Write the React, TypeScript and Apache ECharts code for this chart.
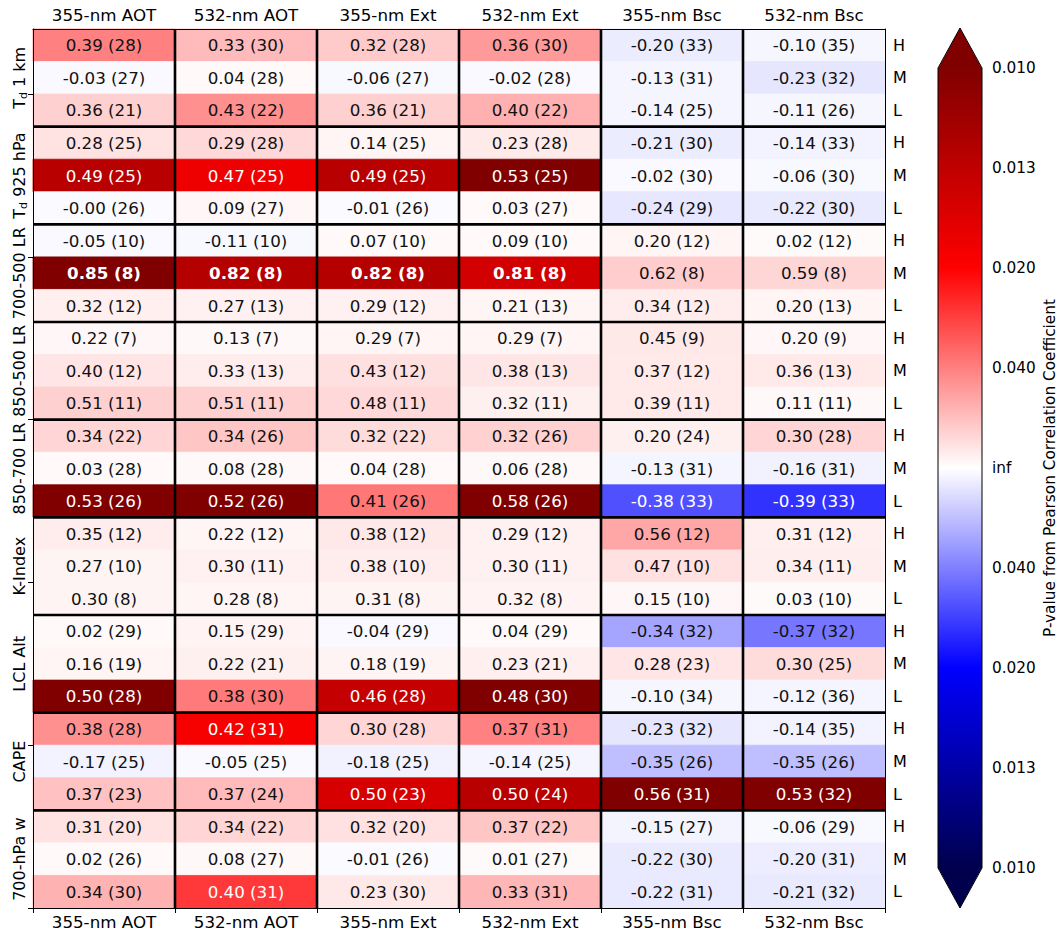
import React, { useEffect, useRef } from 'react';
import * as echarts from 'echarts';

// ---- data -------------------------------------------------------------
const columns = ['355-nm AOT', '532-nm AOT', '355-nm Ext', '532-nm Ext', '355-nm Bsc', '532-nm Bsc'];
const groups = ['T_d 1 km', 'T_d 925 hPa', '700-500 LR', '850-500 LR', '850-700 LR', 'K-Index', 'LCL Alt', 'CAPE', '700-hPa w'];
const levels = ['H', 'M', 'L'];

// Pearson correlation coefficient, one row per group level (H, M, L)
const corr: number[][] = [
  [0.39, 0.33, 0.32, 0.36, -0.20, -0.10],
  [-0.03, 0.04, -0.06, -0.02, -0.13, -0.23],
  [0.36, 0.43, 0.36, 0.40, -0.14, -0.11],
  [0.28, 0.29, 0.14, 0.23, -0.21, -0.14],
  [0.49, 0.47, 0.49, 0.53, -0.02, -0.06],
  [-0.00, 0.09, -0.01, 0.03, -0.24, -0.22],
  [-0.05, -0.11, 0.07, 0.09, 0.20, 0.02],
  [0.85, 0.82, 0.82, 0.81, 0.62, 0.59],
  [0.32, 0.27, 0.29, 0.21, 0.34, 0.20],
  [0.22, 0.13, 0.29, 0.29, 0.45, 0.20],
  [0.40, 0.33, 0.43, 0.38, 0.37, 0.36],
  [0.51, 0.51, 0.48, 0.32, 0.39, 0.11],
  [0.34, 0.34, 0.32, 0.32, 0.20, 0.30],
  [0.03, 0.08, 0.04, 0.06, -0.13, -0.16],
  [0.53, 0.52, 0.41, 0.58, -0.38, -0.39],
  [0.35, 0.22, 0.38, 0.29, 0.56, 0.31],
  [0.27, 0.30, 0.38, 0.30, 0.47, 0.34],
  [0.30, 0.28, 0.31, 0.32, 0.15, 0.03],
  [0.02, 0.15, -0.04, 0.04, -0.34, -0.37],
  [0.16, 0.22, 0.18, 0.23, 0.28, 0.30],
  [0.50, 0.38, 0.46, 0.48, -0.10, -0.12],
  [0.38, 0.42, 0.30, 0.37, -0.23, -0.14],
  [-0.17, -0.05, -0.18, -0.14, -0.35, -0.35],
  [0.37, 0.37, 0.50, 0.50, 0.56, 0.53],
  [0.31, 0.34, 0.32, 0.37, -0.15, -0.06],
  [0.02, 0.08, -0.01, 0.01, -0.22, -0.20],
  [0.34, 0.40, 0.23, 0.33, -0.22, -0.21],
];

// sample counts behind each coefficient
const counts: number[][] = [
  [28, 30, 28, 30, 33, 35],
  [27, 28, 27, 28, 31, 32],
  [21, 22, 21, 22, 25, 26],
  [25, 28, 25, 28, 30, 33],
  [25, 25, 25, 25, 30, 30],
  [26, 27, 26, 27, 29, 30],
  [10, 10, 10, 10, 12, 12],
  [8, 8, 8, 8, 8, 8],
  [12, 13, 12, 13, 12, 13],
  [7, 7, 7, 7, 9, 9],
  [12, 13, 12, 13, 12, 13],
  [11, 11, 11, 11, 11, 11],
  [22, 26, 22, 26, 24, 28],
  [28, 28, 28, 28, 31, 31],
  [26, 26, 26, 26, 33, 33],
  [12, 12, 12, 12, 12, 12],
  [10, 11, 10, 11, 10, 11],
  [8, 8, 8, 8, 10, 10],
  [29, 29, 29, 29, 32, 32],
  [19, 21, 19, 21, 23, 25],
  [28, 30, 28, 30, 34, 36],
  [28, 31, 28, 31, 32, 35],
  [25, 25, 25, 25, 26, 26],
  [23, 24, 23, 24, 31, 32],
  [20, 22, 20, 22, 27, 29],
  [26, 27, 26, 27, 30, 31],
  [30, 31, 30, 31, 31, 32],
];

// colour bar: signed 1/p scale, labelled with the p-value
const cbTickValues = [100, 75, 50, 25, 0, -25, -50, -75, -100];
const cbTickLabels = ['0.010', '0.013', '0.020', '0.040', 'inf', '0.040', '0.020', '0.013', '0.010'];
const CB_LIMIT = 100;

// ---- styling ----------------------------------------------------------
const FONT = 'DejaVu Sans';
const TEXT_DARK = '#111111';
const WHITE_TEXT_LIMIT = 30; // |1/p| above which the annotation turns white
const BOLD_R = 0.8;

// matplotlib "seismic"
const SEISMIC: [number, number[]][] = [
  [0, [0, 0, 0.3]],
  [0.25, [0, 0, 1]],
  [0.5, [1, 1, 1]],
  [0.75, [1, 0, 0]],
  [1, [0.5, 0, 0]],
];

// ---- statistics helpers ------------------------------------------------
function logGamma(x: number): number {
  const g = 7;
  const c = [
    0.99999999999980993, 676.5203681218851, -1259.1392167224028, 771.32342877765313,
    -176.61502916214059, 12.507343278686905, -0.13857109526572012, 9.9843695780195716e-6,
    1.5056327351493116e-7,
  ];
  if (x < 0.5) return Math.log(Math.PI / Math.sin(Math.PI * x)) - logGamma(1 - x);
  x -= 1;
  let a = c[0];
  const t = x + g + 0.5;
  for (let i = 1; i < g + 2; i++) a += c[i] / (x + i);
  return 0.5 * Math.log(2 * Math.PI) + (x + 0.5) * Math.log(t) - t + Math.log(a);
}

function betaCF(a: number, b: number, x: number): number {
  const FPMIN = 1e-300;
  const qab = a + b, qap = a + 1, qam = a - 1;
  let c = 1;
  let d = 1 - (qab * x) / qap;
  if (Math.abs(d) < FPMIN) d = FPMIN;
  d = 1 / d;
  let h = d;
  for (let m = 1; m <= 300; m++) {
    const m2 = 2 * m;
    let aa = (m * (b - m) * x) / ((qam + m2) * (a + m2));
    d = 1 + aa * d; if (Math.abs(d) < FPMIN) d = FPMIN;
    c = 1 + aa / c; if (Math.abs(c) < FPMIN) c = FPMIN;
    d = 1 / d; h *= d * c;
    aa = (-(a + m) * (qab + m) * x) / ((a + m2) * (qap + m2));
    d = 1 + aa * d; if (Math.abs(d) < FPMIN) d = FPMIN;
    c = 1 + aa / c; if (Math.abs(c) < FPMIN) c = FPMIN;
    d = 1 / d;
    const del = d * c;
    h *= del;
    if (Math.abs(del - 1) < 3e-14) break;
  }
  return h;
}

function incBeta(a: number, b: number, x: number): number {
  if (x <= 0) return 0;
  if (x >= 1) return 1;
  const bt = Math.exp(logGamma(a + b) - logGamma(a) - logGamma(b) + a * Math.log(x) + b * Math.log(1 - x));
  if (x < (a + 1) / (a + b + 2)) return (bt * betaCF(a, b, x)) / a;
  return 1 - (bt * betaCF(b, a, 1 - x)) / b;
}

// two-sided p-value of a Pearson coefficient r from n samples
function pearsonP(r: number, n: number): number {
  const df = n - 2;
  const r2 = r * r;
  if (r2 >= 1) return 0;
  const t2 = (r2 * df) / (1 - r2);
  return incBeta(df / 2, 0.5, df / (df + t2));
}

function seismic(t: number): string {
  const u = Math.max(0, Math.min(1, t));
  for (let i = 1; i < SEISMIC.length; i++) {
    const [o1, c1] = SEISMIC[i];
    const [o0, c0] = SEISMIC[i - 1];
    if (u <= o1) {
      const f = (u - o0) / (o1 - o0);
      const rgb = c0.map((v, k) => Math.round(255 * (v + (c1[k] - v) * f)));
      return `rgb(${rgb[0]},${rgb[1]},${rgb[2]})`;
    }
  }
  return 'rgb(128,0,0)';
}

function fmtR(r: number): string {
  const neg = r < 0 || Object.is(r, -0);
  return (neg ? '-' : '') + Math.abs(r).toFixed(2);
}

function groupLabel(name: string): string {
  if (name.startsWith('T_d')) return `{b|T}{s|d}{b|${name.slice(3)}}`;
  return `{b|${name}}`;
}

// ---- option -----------------------------------------------------------
function buildOption() {
  const nRows = groups.length * levels.length;
  const rowIds = Array.from({ length: nRows }, (_, i) => String(i));

  const cells: { value: number[]; r: number; n: number }[] = [];
  corr.forEach((row, ri) =>
    row.forEach((r, ci) => cells.push({ value: [ci, ri], r, n: counts[ri][ci] })),
  );

  const sepData: number[][] = [];
  for (let g = 1; g < groups.length; g++) sepData.push([0, g * levels.length, 0]);
  for (let c = 1; c < columns.length; c++) sepData.push([c, 0, 1]);

  const axisLine = { show: true, lineStyle: { color: '#000', width: 1 } };
  const labelBase = { color: '#000', fontFamily: FONT, fontSize: 16.7 };

  return {
    animation: false,
    backgroundColor: '#ffffff',
    grid: [
      { left: 33, top: 29, width: 852, height: 879 },
      { left: 938, top: 68, width: 44, height: 800 },
    ],
    xAxis: [
      {
        type: 'category', gridIndex: 0, position: 'top', data: columns, z: 10,
        axisLine, axisTick: { show: false },
        axisLabel: { ...labelBase, margin: 6 },
        splitLine: { show: false },
      },
      {
        type: 'category', gridIndex: 0, position: 'bottom', data: columns, z: 10,
        axisLine,
        axisTick: { show: true, length: 5, lineStyle: { color: '#000', width: 1 } },
        axisLabel: { ...labelBase, margin: 5 },
        splitLine: { show: false },
      },
      { type: 'value', gridIndex: 1, min: 0, max: 1, show: false },
    ],
    yAxis: [
      {
        type: 'category', gridIndex: 0, position: 'left', inverse: true, data: rowIds, z: 10,
        axisLine,
        axisTick: {
          show: true, length: 5, interval: (i: number) => i % 5 === 2,
          lineStyle: { color: '#000', width: 1 },
        },
        axisLabel: {
          interval: (i: number) => i % levels.length === 1,
          rotate: 90,
          margin: 4,
          formatter: (v: string) => groupLabel(groups[Math.floor(Number(v) / levels.length)]),
          rich: {
            b: { fontSize: 16, fontFamily: FONT, color: '#000', lineHeight: 20 },
            s: { fontSize: 11, fontFamily: FONT, color: '#000', lineHeight: 11, verticalAlign: 'bottom' },
          },
        },
        splitLine: { show: false },
      },
      {
        type: 'category', gridIndex: 0, position: 'right', inverse: true, data: rowIds, z: 10,
        axisLine, axisTick: { show: false },
        axisLabel: {
          ...labelBase, fontSize: 16, margin: 8,
          interval: 0,
          formatter: (v: string) => levels[Number(v) % levels.length],
        },
        splitLine: { show: false },
      },
      {
        type: 'value', gridIndex: 1, position: 'right', min: -CB_LIMIT, max: CB_LIMIT, interval: 25,
        axisLine: { show: false },
        axisTick: { show: true, length: 5, lineStyle: { color: '#000', width: 1 } },
        axisLabel: {
          color: '#000', fontFamily: FONT, fontSize: 15.3, margin: 10,
          formatter: (v: number) => {
            const i = cbTickValues.indexOf(v);
            return i >= 0 ? cbTickLabels[i] : '';
          },
        },
        splitLine: { show: false },
        name: 'P-value from Pearson Correlation Coefficient',
        nameLocation: 'middle',
        nameRotate: 90,
        nameGap: 60,
        nameTextStyle: { color: '#000', fontFamily: FONT, fontSize: 15.3 },
      },
    ],
    series: [
      {
        type: 'custom',
        name: 'cells',
        coordinateSystem: 'cartesian2d',
        xAxisIndex: 0,
        yAxisIndex: 0,
        encode: { x: 0, y: 1 },
        data: cells.map((c) => c.value),
        renderItem: (params: any, api: any) => {
          const cell = cells[params.dataIndex];
          const p = pearsonP(cell.r, cell.n);
          const inv = p > 0 ? 1 / p : Infinity;
          const signed = (cell.r < 0 || Object.is(cell.r, -0) ? -1 : 1) * Math.min(inv, CB_LIMIT);
          const color = seismic((signed + CB_LIMIT) / (2 * CB_LIMIT));
          const ctr = api.coord([api.value(0), api.value(1)]);
          const sz = api.size([1, 1]);
          const textColor = inv > WHITE_TEXT_LIMIT ? '#ffffff' : TEXT_DARK;
          return {
            type: 'group',
            children: [
              {
                type: 'rect',
                shape: { x: ctr[0] - sz[0] / 2, y: ctr[1] - sz[1] / 2, width: sz[0], height: sz[1] },
                style: { fill: color, stroke: color, lineWidth: 0.8 },
              },
              {
                type: 'text',
                x: ctr[0],
                y: ctr[1],
                style: {
                  text: `${fmtR(cell.r)} (${cell.n})`,
                  fill: textColor,
                  fontFamily: FONT,
                  fontSize: 16.7,
                  fontWeight: Math.abs(cell.r) >= BOLD_R ? 'bold' : 'normal',
                  align: 'center',
                  verticalAlign: 'middle',
                },
              },
            ],
          };
        },
        z: 2,
      },
      {
        type: 'custom',
        name: 'separators',
        coordinateSystem: 'cartesian2d',
        xAxisIndex: 0,
        yAxisIndex: 0,
        encode: { x: 0, y: 1 },
        data: sepData,
        clip: false,
        renderItem: (params: any, api: any) => {
          const cs = params.coordSys;
          const vertical = api.value(2) === 1;
          if (vertical) {
            const x = api.coord([api.value(0), 0])[0] - api.size([1, 0])[0] / 2;
            return {
              type: 'line',
              shape: { x1: x, y1: cs.y, x2: x, y2: cs.y + cs.height },
              style: { stroke: '#000', lineWidth: 2.6 },
            };
          }
          const y = api.coord([0, api.value(1)])[1] - api.size([0, 1])[1] / 2;
          return {
            type: 'line',
            shape: { x1: cs.x, y1: y, x2: cs.x + cs.width, y2: y },
            style: { stroke: '#000', lineWidth: 2.6 },
          };
        },
        z: 3,
      },
      {
        type: 'custom',
        name: 'colorbar',
        coordinateSystem: 'cartesian2d',
        xAxisIndex: 2,
        yAxisIndex: 2,
        encode: { x: 0, y: 1 },
        data: [[0, 0]],
        clip: false,
        renderItem: (_params: any, api: any) => {
          const yTop = api.coord([0, CB_LIMIT])[1];
          const yBot = api.coord([0, -CB_LIMIT])[1];
          const x0 = api.coord([0, 0])[0];
          const x1 = api.coord([1, 0])[0];
          const xc = (x0 + x1) / 2;
          const ext = 0.05 * (yBot - yTop);
          const stops = SEISMIC.slice().reverse().map(([o, c]) => ({
            offset: 1 - o,
            color: `rgb(${Math.round(c[0] * 255)},${Math.round(c[1] * 255)},${Math.round(c[2] * 255)})`,
          }));
          return {
            type: 'group',
            children: [
              {
                type: 'rect',
                shape: { x: x0, y: yTop, width: x1 - x0, height: yBot - yTop },
                style: {
                  fill: { type: 'linear', x: 0, y: 0, x2: 0, y2: 1, colorStops: stops },
                },
              },
              {
                type: 'polygon',
                shape: { points: [[x0, yTop + 0.5], [x1, yTop + 0.5], [xc, yTop - ext]] },
                style: { fill: seismic(1) },
              },
              {
                type: 'polygon',
                shape: { points: [[x0, yBot - 0.5], [x1, yBot - 0.5], [xc, yBot + ext]] },
                style: { fill: seismic(0) },
              },
              {
                type: 'polygon',
                shape: {
                  points: [
                    [x0, yTop], [xc, yTop - ext], [x1, yTop],
                    [x1, yBot], [xc, yBot + ext], [x0, yBot],
                  ],
                },
                style: { fill: 'none', stroke: '#000', lineWidth: 1 },
              },
            ],
          };
        },
        z: 2,
      },
    ],
  };
}

export default function App() {
  const ref = useRef<HTMLDivElement>(null);
  useEffect(() => {
    if (!ref.current) return;
    const chart = echarts.init(ref.current, undefined, { renderer: 'svg' });
    chart.setOption(buildOption() as any);
    return () => chart.dispose();
  }, []);
  return (
    <div
      ref={ref}
      style={{ position: 'fixed', left: 0, top: 0, width: 1059, height: 933, background: '#ffffff' }}
    />
  );
}
